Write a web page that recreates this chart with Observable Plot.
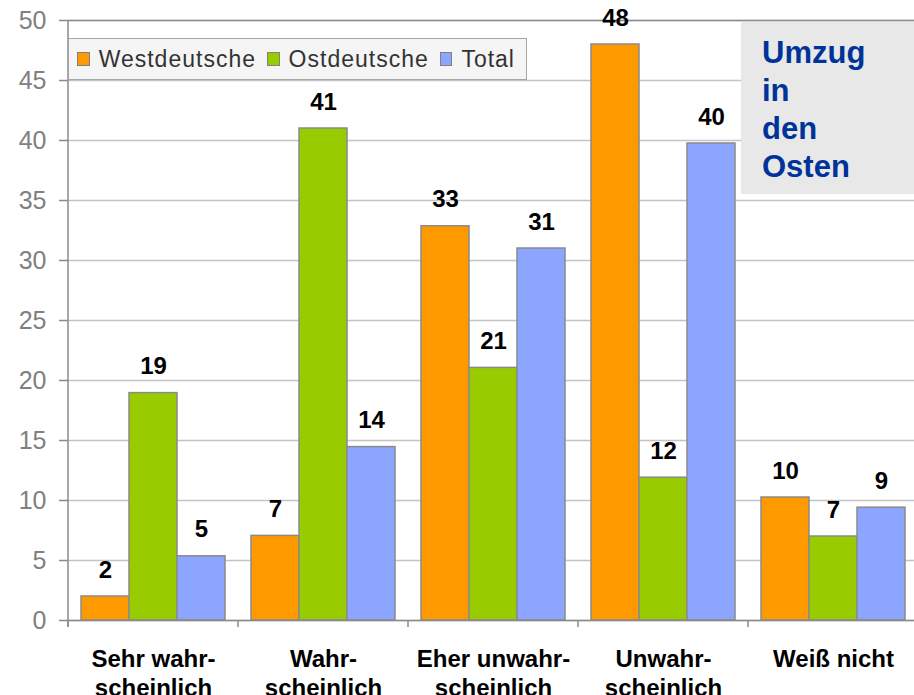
<!DOCTYPE html>
<html>
<head>
<meta charset="utf-8">
<script src="https://cdn.jsdelivr.net/npm/d3@7"></script>
<script src="https://cdn.jsdelivr.net/npm/@observablehq/plot@0.6"></script>
<style>
  html, body { margin: 0; padding: 0; background: #fff; overflow: hidden; }
  #wrap { position: relative; width: 914px; height: 695px; font-family: "Liberation Sans", Arial, sans-serif; }
  #legend { position: absolute; left: 68px; top: 38px; width: 449px; height: 40px; background: #f5f5f5;
    border: 1px solid #a6a6a6; display: flex; align-items: center; padding-left: 8px; box-sizing: content-box; }
  #legend .sw { width: 12px; height: 12px; border: 1px solid #808080; margin-right: 9px; }
  #legend .lb { font-size: 23px; color: #333; letter-spacing: 1px; margin-right: 11px; }
  #note { position: absolute; left: 741px; top: 22px; width: 173px; height: 172px; background: #e8e8e8;
    color: #003399; font-weight: bold; font-size: 31px; line-height: 38px; padding-left: 21px; padding-top: 12px; box-sizing: border-box; }
</style>
</head>
<body>
<div id="wrap"></div>
<script>
// ---- data ----
const categories = ["Sehr wahr-\nscheinlich", "Wahr-\nscheinlich", "Eher unwahr-\nscheinlich", "Unwahr-\nscheinlich", "Weiß nicht"];
const series = ["Westdeutsche", "Ostdeutsche", "Total"];
const westValues  = [2.0, 7.05, 32.85, 48.0, 10.25];
const ostValues   = [18.95, 41.0, 21.05, 11.9, 7.0];
const totalValues = [5.35, 14.45, 31.0, 39.75, 9.4];
const westLabels  = [2, 7, 33, 48, 10];
const ostLabels   = [19, 41, 21, 12, 7];
const totalLabels = [5, 14, 31, 40, 9];
const yTicks = [0, 5, 10, 15, 20, 25, 30, 35, 40, 45, 50];
const colors = ["#FF9900", "#99CC00", "#8CA6FF"];
const noteLines = ["Umzug", "in", "den", "Osten"];

const valueSets = [westValues, ostValues, totalValues];
const labelSets = [westLabels, ostLabels, totalLabels];
const rows = categories.flatMap((c, i) => series.map((s, j) => ({
  cat: c, series: s, value: valueSets[j][i], label: labelSets[j][i]
})));

const font = "Liberation Sans, Arial, sans-serif";

const plot = Plot.plot({
  width: 914,
  height: 695,
  marginLeft: 66,
  marginRight: -6,
  marginTop: 20,
  marginBottom: 75,
  style: { fontFamily: font, background: "transparent", overflow: "visible" },
  fx: { domain: categories, padding: 0, axis: null, label: null },
  x: { domain: series, paddingInner: 0, paddingOuter: 0.238, axis: null, label: null },
  y: { domain: [0, 50], axis: null, label: null },
  color: { domain: series, range: colors },
  marks: [
    Plot.gridY(yTicks, { stroke: "#c4c4c4", strokeOpacity: 1, strokeWidth: 1.5 }),
    Plot.ruleY([50], { stroke: "#8c8c8c", strokeWidth: 1.5 }),
    Plot.barY(rows, { fx: "cat", x: "series", y: "value", fill: "series", stroke: "#8a8a8a", strokeWidth: 1.5 }),
    Plot.ruleY([0], { stroke: "#8a8a8a", strokeWidth: 1.5 }),
    Plot.text(rows, { fx: "cat", x: "series", y: "value", text: "label", dy: -19, lineAnchor: "bottom",
      fontSize: 24, fontWeight: "bold", fill: "#000" }),
    Plot.axisY(yTicks, { tickSize: 9, tickPadding: 13, fontSize: 25, fill: "#808080", stroke: "#8a8a8a", strokeWidth: 1.5, label: null }),
    Plot.axisFx({ anchor: "bottom", tickSize: 0, tickPadding: 26, fontSize: 24, fontWeight: "bold", fill: "#000", lineHeight: 1.2, label: null })
  ]
});

document.getElementById("wrap").appendChild(plot);

// vertical axis line and group-boundary ticks using Plot's own scales
try {
  const fx = plot.scale("fx");
  const y = plot.scale("y");
  const svg = d3.select(plot);
  const y0 = y.apply(0), y50 = y.apply(50);
  const bounds = categories.map(c => fx.apply(c));
  bounds.push(fx.apply(categories[categories.length - 1]) + fx.bandwidth);
  const g = svg.append("g").attr("stroke", "#8a8a8a").attr("stroke-width", 1.5);
  g.append("line").attr("x1", bounds[0]).attr("x2", bounds[0]).attr("y1", y50).attr("y2", y0 + 7);
  g.selectAll("line.b").data(bounds).join("line").attr("class", "b")
    .attr("x1", d => d).attr("x2", d => d).attr("y1", y0).attr("y2", y0 + 7);
} catch (e) { console.error(e); }

// legend
const legend = d3.select("#wrap").append("div").attr("id", "legend");
series.forEach((s, i) => {
  legend.append("div").attr("class", "sw").style("background", colors[i]);
  legend.append("div").attr("class", "lb").text(s);
});

// annotation box
const note = d3.select("#wrap").append("div").attr("id", "note");
noteLines.forEach(t => note.append("div").text(t));
</script>
</body>
</html>
